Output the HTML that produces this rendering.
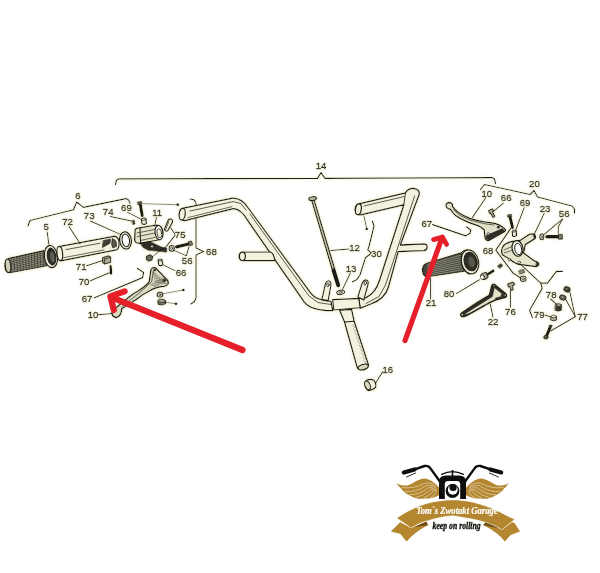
<!DOCTYPE html>
<html><head><meta charset="utf-8"><title>Lenker Explosionszeichnung</title>
<style>
html,body{margin:0;padding:0;background:#fff;}
body{width:600px;height:573px;overflow:hidden;font-family:"Liberation Sans",sans-serif;}
svg{display:block}
svg text{font-family:"Liberation Sans",sans-serif;fill:#1c1c15;stroke:#1c1c15;stroke-width:0.42px;}
svg{will-change:transform;}
</style></head><body>
<svg width="600" height="573" viewBox="0 0 600 573">
<rect width="600" height="573" fill="#ffffff"/>
<defs><filter id="halo" x="0" y="0" width="600" height="573" filterUnits="userSpaceOnUse">
<feGaussianBlur in="SourceAlpha" stdDeviation="1.5" result="b"/>
<feComponentTransfer in="b" result="b2"><feFuncA type="linear" slope="2.2"/></feComponentTransfer>
<feFlood flood-color="#f5f3d6" result="c"/>
<feComposite in="c" in2="b2" operator="in" result="h"/>
<feMerge><feMergeNode in="h"/><feMergeNode in="SourceGraphic"/></feMerge>
</filter></defs>
<g stroke-linejoin="round" stroke-linecap="round" filter="url(#halo)">
<path d="M115.5,184.5 L116.5,180 L119.5,178.8 L317.5,178.4 L321,172.6 L325,178.4 L492,177.6 L494.5,179 L495.5,183.5" fill="none" stroke="#1f1f18" stroke-width="1.16" />
<path d="M28,226 L30,220.5 L73.5,209.8 L76.7,202 L83.3,207.4 L126,198.6 L128.6,200 L130,203.4" fill="none" stroke="#1f1f18" stroke-width="1.16" />
<path d="M190,199 L194,199.8 L196,202.5 L196,248 L203.5,251.5 L196,255 L196,298 L194.5,301.5 L191,304" fill="none" stroke="#1f1f18" stroke-width="1.16" />
<path d="M480.5,189.5 L484.5,184.5 L530,194.5 L534,190.5 L537.5,197 L572,206 L574.5,209 L574.5,213" fill="none" stroke="#1f1f18" stroke-width="1.16" />
<path d="M510.8,228.4 L495.8,250.2 L513.3,273.3 L520,277.6" fill="none" stroke="#1f1f18" stroke-width="1.16" />
<path d="M562.5,271.3 L556.5,271.3 L547.5,283.2 L540.8,283.2 L542.2,288.4 L529.6,310.2 L532.4,317.6" fill="none" stroke="#1f1f18" stroke-width="1.16" />
<path d="M540.8,283.2 L519.5,263.4" fill="none" stroke="#1f1f18" stroke-width="1.09" />
<path d="M372.4,221.2 L374,225.8 L369,246.5 L367.8,249.8 L371.2,253.2 L365.4,257.8 L360,275 L357,279.4 L352.4,281.8" fill="none" stroke="#1f1f18" stroke-width="1.16" />
<path d="M363.9,215.8 L366.5,227.6" fill="none" stroke="#1f1f18" stroke-width="0.87" />
<circle cx="366.7" cy="229" r="1.3" fill="#1f1f18"/>
<path d="M182,208.4 L232.5,198.2 Q242,198 248.3,208 L310.8,293.2 Q316,300.5 331,301.4 L332.8,310.6 Q312,311 304.4,302.3 L247.4,220.2 Q241.5,209.5 233.5,208.6 L185,220.6 Q179.4,221 179.2,215 Q179.4,209 182,208.4 Z" fill="#f3f2de" stroke="#1f1f18" stroke-width="1.26" />
<ellipse cx="182.2" cy="214.2" rx="3.0" ry="5.9" transform="rotate(8 182.2 214.2)" fill="#f3f2de" stroke="#1f1f18" stroke-width="1.15"/>
<path d="M190,211 L233,201.6 L241,203.5 L246,210" fill="none" stroke="#1f1f18" stroke-width="0.72" />
<path d="M188,217.6 L232,206.6" fill="none" stroke="#1f1f18" stroke-width="0.65" />
<path d="M250,214 L309,296 L318,302.5 L331,304.5" fill="none" stroke="#1f1f18" stroke-width="0.72" />
<path d="M242.8,252 L270.4,252 Q273.5,253 275,260.6 L242.8,260.6 Q239,260 239,256.2 Q239.2,252.4 242.8,252 Z" fill="#f3f2de" stroke="#1f1f18" stroke-width="1.15" />
<ellipse cx="242.4" cy="256.3" rx="3.0" ry="4.2" transform="rotate(0 242.4 256.3)" fill="#f3f2de" stroke="#1f1f18" stroke-width="1.15"/>
<path d="M358.6,203.8 L405.5,192.8 Q408.5,187.8 414.5,188.6 Q419.5,189.4 419.4,194 L400.4,245 L423.8,243.8 Q427.4,244 427.2,247.2 Q427,250.4 423.8,250.6 L398.2,251.6 L388.5,287 Q385,299 371,304 L360,308.3 L358.6,298.5 L366,297.6 Q375.5,293 379.4,280.5 L403.8,204.8 L361,214.8 Q355.2,215.4 355,209.6 Q355.2,204.4 358.6,203.8 Z" fill="#f3f2de" stroke="#1f1f18" stroke-width="1.26" />
<ellipse cx="358.4" cy="209.3" rx="2.9" ry="5.5" transform="rotate(8 358.4 209.3)" fill="#f3f2de" stroke="#1f1f18" stroke-width="1.15"/>
<path d="M364,206 L404,196.6" fill="none" stroke="#1f1f18" stroke-width="0.72" />
<path d="M414.6,196 L385.5,285 L379,296.5 L366,303.5" fill="none" stroke="#1f1f18" stroke-width="0.72" />
<path d="M405.5,192.8 L403.8,204.8" fill="none" stroke="#1f1f18" stroke-width="0.87" />
<path d="M332.6,299.6 L358.8,298.4 L360.2,307.8 L333.8,310 Z" fill="#f3f2de" stroke="#1f1f18" stroke-width="1.15" />
<path d="M321.8,299.6 L325.5,283.4 Q327,280 329.6,281 Q331.6,282.4 331,285 L328.2,300.6 Z" fill="#f3f2de" stroke="#1f1f18" stroke-width="1.15" />
<ellipse cx="327.9" cy="284.8" rx="1.2" ry="1.9" transform="rotate(15 327.9 284.8)" fill="#fff" stroke="#1f1f18" stroke-width="0.8"/>
<path d="M357.8,297 L362.2,282.8 Q364,279.2 366.6,280 Q368.8,281.2 368.2,284 L363.8,300 Z" fill="#f3f2de" stroke="#1f1f18" stroke-width="1.15" />
<ellipse cx="365.2" cy="283.2" rx="1.2" ry="1.9" transform="rotate(15 365.2 283.2)" fill="#fff" stroke="#1f1f18" stroke-width="0.8"/>
<path d="M339.6,310.2 L344.5,322 L357.2,367.6 Q359,370.6 364,369.8 Q368.6,368.2 368.5,364.8 L354.2,321.2 L351.6,309.4 Z" fill="#f3f2de" stroke="#1f1f18" stroke-width="1.26" />
<ellipse cx="363.2" cy="367" rx="5.2" ry="2.6" transform="rotate(-16 363.2 367)" fill="#d4d4b8" stroke="#1f1f18" stroke-width="1.03"/>
<path d="M344.5,322 L354.2,321.2" fill="none" stroke="#1f1f18" stroke-width="1.01" />
<path d="M352.4,325.0 L354.6,327.4" stroke="#1f1f18" stroke-width="0.4" fill="none"/>
<path d="M353.7,329.0 L355.9,331.4" stroke="#1f1f18" stroke-width="0.4" fill="none"/>
<path d="M355.0,333.0 L357.2,335.4" stroke="#1f1f18" stroke-width="0.4" fill="none"/>
<path d="M356.3,337.0 L358.5,339.4" stroke="#1f1f18" stroke-width="0.4" fill="none"/>
<path d="M357.6,341.0 L359.8,343.4" stroke="#1f1f18" stroke-width="0.4" fill="none"/>
<path d="M358.9,345.0 L361.1,347.4" stroke="#1f1f18" stroke-width="0.4" fill="none"/>
<path d="M360.2,349.0 L362.4,351.4" stroke="#1f1f18" stroke-width="0.4" fill="none"/>
<path d="M361.6,353.0 L363.8,355.4" stroke="#1f1f18" stroke-width="0.4" fill="none"/>
<path d="M362.9,357.0 L365.1,359.4" stroke="#1f1f18" stroke-width="0.4" fill="none"/>
<path d="M364.2,361.0 L366.4,363.4" stroke="#1f1f18" stroke-width="0.4" fill="none"/>
<path d="M311.5,199.8 L313.9,199.2 L339.5,285 L337.1,286 Z" fill="#c9c8b0" stroke="#1f1f18" stroke-width="1.15" />
<ellipse cx="312.6" cy="198.6" rx="3.9" ry="1.9" transform="rotate(-8 312.6 198.6)" fill="#b9b9a4" stroke="#1f1f18" stroke-width="1.15"/>
<path d="M333.4,270.4 L338.3,285.4" fill="none" stroke="#1f1f18" stroke-width="3.77" />
<ellipse cx="340.6" cy="292.4" rx="4.0" ry="2.2" transform="rotate(-12 340.6 292.4)" fill="#f3f2de" stroke="#1f1f18" stroke-width="1.03"/>
<ellipse cx="340.6" cy="292.4" rx="1.7" ry="0.8" transform="rotate(-12 340.6 292.4)" fill="#fff" stroke="#1f1f18" stroke-width="0.69"/>
<path d="M366,380.6 Q370,378.4 373.6,380 Q376.4,382.6 375.8,387.2 Q373,390.4 368.4,390.6 Q364.6,388 364.8,383.4 Q365,381.4 366,380.6 Z" fill="#f3f2de" stroke="#1f1f18" stroke-width="1.15" />
<ellipse cx="367.6" cy="385.4" rx="2.6" ry="4.6" transform="rotate(-24 367.6 385.4)" fill="#d8d7be" stroke="#1f1f18" stroke-width="0.92"/>
<path d="M375.4,383.4 L382.8,371.6" fill="none" stroke="#1f1f18" stroke-width="1.01" />
<path d="M9,258.4 L44,250.6 L47,265.8 L9.5,272.8 Q5,272.2 4.8,266 Q4.8,260 9,258.4 Z" fill="#55554a" stroke="#1f1f18" stroke-width="1.15" />
<path d="M9.5,259.5 L45,251.7" stroke="#cfceb6" stroke-width="0.55" fill="none"/>
<path d="M9.5,261.2 L45,253.6" stroke="#cfceb6" stroke-width="0.55" fill="none"/>
<path d="M9.5,263.0 L45,255.5" stroke="#cfceb6" stroke-width="0.55" fill="none"/>
<path d="M9.5,264.7 L45,257.4" stroke="#cfceb6" stroke-width="0.55" fill="none"/>
<path d="M9.5,266.5 L45,259.2" stroke="#cfceb6" stroke-width="0.55" fill="none"/>
<path d="M9.5,268.2 L45,261.1" stroke="#cfceb6" stroke-width="0.55" fill="none"/>
<path d="M9.5,270.0 L45,263.0" stroke="#cfceb6" stroke-width="0.55" fill="none"/>
<path d="M9.5,271.7 L45,264.9" stroke="#cfceb6" stroke-width="0.55" fill="none"/>
<path d="M11.0,258.0 L11.8,272.4" stroke="#1f1f18" stroke-width="0.55" fill="none"/>
<path d="M13.9,257.3 L14.7,271.9" stroke="#1f1f18" stroke-width="0.55" fill="none"/>
<path d="M16.8,256.7 L17.6,271.3" stroke="#1f1f18" stroke-width="0.55" fill="none"/>
<path d="M19.7,256.0 L20.5,270.8" stroke="#1f1f18" stroke-width="0.55" fill="none"/>
<path d="M22.6,255.4 L23.4,270.3" stroke="#1f1f18" stroke-width="0.55" fill="none"/>
<path d="M25.5,254.7 L26.3,269.7" stroke="#1f1f18" stroke-width="0.55" fill="none"/>
<path d="M28.4,254.1 L29.2,269.2" stroke="#1f1f18" stroke-width="0.55" fill="none"/>
<path d="M31.3,253.4 L32.1,268.6" stroke="#1f1f18" stroke-width="0.55" fill="none"/>
<path d="M34.2,252.8 L35.0,268.1" stroke="#1f1f18" stroke-width="0.55" fill="none"/>
<path d="M37.1,252.1 L37.9,267.5" stroke="#1f1f18" stroke-width="0.55" fill="none"/>
<path d="M40.0,251.5 L40.8,267.0" stroke="#1f1f18" stroke-width="0.55" fill="none"/>
<path d="M42.9,250.8 L43.7,266.5" stroke="#1f1f18" stroke-width="0.55" fill="none"/>
<ellipse cx="8.0" cy="265.8" rx="2.7" ry="6.8" transform="rotate(-6 8.0 265.8)" fill="#d0d0b8" stroke="#1f1f18" stroke-width="1.03"/>
<ellipse cx="51" cy="256.6" rx="6.6" ry="11.2" transform="rotate(-8 51 256.6)" fill="#f3f2de" stroke="#1f1f18" stroke-width="1.26"/>
<ellipse cx="51.6" cy="256.6" rx="4.3" ry="8.6" transform="rotate(-8 51.6 256.6)" fill="#2e2e26" stroke="#1f1f18" stroke-width="0.92"/>
<ellipse cx="52.4" cy="257" rx="2.2" ry="5.6" transform="rotate(-8 52.4 257)" fill="#5c5c50" stroke="none" stroke-width="0.0"/>
<path d="M61,246.2 L114.8,236.2 Q118.6,237 119.2,243 Q119.2,249 116.6,249.8 L61,260.8 Q57.2,260.2 57,253.8 Q57.4,247 61,246.2 Z" fill="#f3f2de" stroke="#1f1f18" stroke-width="1.21" />
<ellipse cx="59.8" cy="253.5" rx="2.8" ry="7.2" transform="rotate(-6 59.8 253.5)" fill="#f3f2de" stroke="#1f1f18" stroke-width="1.15"/>
<path d="M103.4,240.4 L110.8,239 L109.8,243.4 L102.6,247.4 Z" fill="#3c3c32" stroke="#1f1f18" stroke-width="0.57" />
<path d="M112.4,238.8 Q117.4,239.6 116.6,246.4 L112.8,248 Q110.4,244 112.4,238.8 Z" fill="#55554a" stroke="#1f1f18" stroke-width="0.57" />
<path d="M66,249.6 L100,243.2" fill="none" stroke="#1f1f18" stroke-width="0.72" />
<path d="M64,257.6 L104,250" fill="none" stroke="#1f1f18" stroke-width="0.65" />
<ellipse cx="125.5" cy="240.4" rx="5.9" ry="8.7" transform="rotate(-8 125.5 240.4)" fill="#f3f2de" stroke="#1f1f18" stroke-width="1.26"/>
<ellipse cx="125.8" cy="240.4" rx="3.7" ry="6.4" transform="rotate(-8 125.8 240.4)" fill="#fff" stroke="#1f1f18" stroke-width="1.03"/>
<path d="M102.6,257.4 L108.6,255.8 L110.8,257.2 L110.6,262.6 L104.6,264 L102.6,262.6 Z" fill="#a9a996" stroke="#1f1f18" stroke-width="1.03" />
<path d="M104.6,258.8 L110.6,257.4" fill="none" stroke="#1f1f18" stroke-width="0.72" />
<path d="M104.6,258.8 L104.6,264" fill="none" stroke="#1f1f18" stroke-width="0.72" />
<path d="M110.6,266.2 L111,273.4" fill="none" stroke="#1f1f18" stroke-width="2.46" />
<path d="M140.4,205 L142.2,215.6" fill="none" stroke="#1f1f18" stroke-width="3.04" />
<path d="M137.6,202 L141.6,201.4 L142,204 L138,204.6 Z" fill="#55554a" stroke="#1f1f18" stroke-width="0.8" />
<path d="M142.8,203.7 L177.2,204.7" stroke="#1f1f18" stroke-width="0.7" fill="none"/>
<circle cx="177.79999999999998" cy="204.7" r="1.35" fill="#1f1f18"/>
<path d="M132,220.6 L134.4,220.2 L135,224 L133,224.6 Z" fill="#2e2e26" stroke="#1f1f18" stroke-width="0.69" />
<path d="M141.5,219.2 Q143.6,217.4 146,218.8 L146.4,223.6 Q144.2,225.2 141.9,223.8 Z" fill="#f3f2de" stroke="#1f1f18" stroke-width="1.15" />
<ellipse cx="143.8" cy="219.2" rx="2.2" ry="1.1" transform="rotate(-5 143.8 219.2)" fill="#fff" stroke="#1f1f18" stroke-width="0.8"/>
<path d="M135,230 Q135.4,228.6 137.5,228.2 L156.3,225 Q162.6,225.4 163,232.6 Q163,239 158.4,240 L141,243.4 Q135,243.8 134.6,240 Z" fill="#e6e5cc" stroke="#1f1f18" stroke-width="1.26" />
<path d="M140,228 L140.6,243" fill="none" stroke="#1f1f18" stroke-width="1.01" />
<path d="M137,233 L155,229.4" fill="none" stroke="#1f1f18" stroke-width="0.65" />
<path d="M137,236.6 L155,233" fill="none" stroke="#1f1f18" stroke-width="0.65" />
<path d="M141,240.4 L155,237.4" fill="none" stroke="#1f1f18" stroke-width="0.65" />
<ellipse cx="159" cy="232.7" rx="3.9" ry="7.2" transform="rotate(-8 159 232.7)" fill="#fff" stroke="#1f1f18" stroke-width="1.15"/>
<ellipse cx="159.4" cy="233.2" rx="2.4" ry="4.5" transform="rotate(-8 159.4 233.2)" fill="#f3f2de" stroke="#1f1f18" stroke-width="0.8"/>
<path d="M140.2,243 L150,241.6 L160.3,246.6 L167,248.6 L166.4,252.2 L161.7,251.6 L148.2,250.2 L143,247.4 Z" fill="#2e2e26" stroke="#1f1f18" stroke-width="0.8" />
<ellipse cx="152" cy="246.4" rx="1.1" ry="0.9" transform="rotate(0 152 246.4)" fill="#e6e5cc" stroke="none" stroke-width="0.0"/>
<path d="M146.6,256.2 L150,254.6 L152.6,256.6 L152,260 L148.6,261.2 L146.2,259.4 Z" fill="#6a6a5c" stroke="#1f1f18" stroke-width="1.03" />
<path d="M164.4,247.6 L152.4,256.6" fill="none" stroke="#1f1f18" stroke-width="0.87" />
<path d="M168.2,220 Q169.6,218.2 171.6,219.2 Q173,220.2 172.4,222.4 L167.8,230.8 Q166.2,231.8 164.8,230.4 Q164,229.4 164.8,228 Z" fill="#f3f2de" stroke="#1f1f18" stroke-width="1.15" />
<path d="M169,221.2 L165.6,229.6" fill="none" stroke="#1f1f18" stroke-width="0.65" />
<ellipse cx="171.7" cy="248.4" rx="2.7" ry="2.9" transform="rotate(0 171.7 248.4)" fill="#f3f2de" stroke="#1f1f18" stroke-width="1.03"/>
<ellipse cx="171.7" cy="248.4" rx="1.1" ry="1.2" transform="rotate(0 171.7 248.4)" fill="#fff" stroke="#1f1f18" stroke-width="0.69"/>
<path d="M176.6,246.8 L188.6,244" fill="none" stroke="#1f1f18" stroke-width="3.33" />
<path d="M188.4,241.6 L191.6,241 L192.8,244.8 L189.6,245.8 Z" fill="#77776a" stroke="#1f1f18" stroke-width="0.92" />
<path d="M158,260.2 Q159.8,258.6 162,259.8 L162.8,264.6 Q161,266.4 158.8,265.2 Z" fill="#f3f2de" stroke="#1f1f18" stroke-width="1.15" />
<ellipse cx="160" cy="260" rx="2.0" ry="1.0" transform="rotate(-8 160 260)" fill="#fff" stroke="#1f1f18" stroke-width="0.8"/>
<path d="M94.5,297.8 L142.5,277.6 L143.6,272.6 L137.4,268.4" fill="none" stroke="#1f1f18" stroke-width="1.23" />
<path d="M150.8,270 Q152.5,266.5 155.5,267.8 L167,279.6 Q169.4,282.4 167.6,284.6 Q165.6,286.6 161.7,286.7 Q154,288 150,290.8 Q142,294.6 136.7,299.2 L121.7,308.8 Q121.6,316 116.4,317.6 Q111.4,316.8 111.8,312 Q112.6,309 115,308.4 L128.3,297.5 Q134,293 138.3,290.8 Q146,286 149.2,281.7 Z" fill="#dad9c0" stroke="#1f1f18" stroke-width="1.26" />
<path d="M150.6,284.6 L155.6,286.8" stroke="#1f1f18" stroke-width="0.4" fill="none"/>
<path d="M152.1,283.7 L157.1,286.1" stroke="#1f1f18" stroke-width="0.4" fill="none"/>
<path d="M153.6,282.8 L158.6,285.4" stroke="#1f1f18" stroke-width="0.4" fill="none"/>
<path d="M155.1,281.9 L160.1,284.7" stroke="#1f1f18" stroke-width="0.4" fill="none"/>
<path d="M156.6,281.0 L161.6,284.0" stroke="#1f1f18" stroke-width="0.4" fill="none"/>
<path d="M158.1,280.1 L163.1,283.3" stroke="#1f1f18" stroke-width="0.4" fill="none"/>
<path d="M159.6,279.2 L164.6,282.6" stroke="#1f1f18" stroke-width="0.4" fill="none"/>
<path d="M161.1,278.3 L166.1,281.9" stroke="#1f1f18" stroke-width="0.4" fill="none"/>
<path d="M162.6,277.4 L167.6,281.2" stroke="#1f1f18" stroke-width="0.4" fill="none"/>
<path d="M164.1,276.5 L169.1,280.5" stroke="#1f1f18" stroke-width="0.4" fill="none"/>
<path d="M152.5,272.0 L155.5,273.6" stroke="#1f1f18" stroke-width="0.4" fill="none"/>
<path d="M153.1,274.0 L157.7,275.6" stroke="#1f1f18" stroke-width="0.4" fill="none"/>
<path d="M153.7,276.0 L159.9,277.6" stroke="#1f1f18" stroke-width="0.4" fill="none"/>
<path d="M154.3,278.0 L162.1,279.6" stroke="#1f1f18" stroke-width="0.4" fill="none"/>
<path d="M154.9,280.0 L164.3,281.6" stroke="#1f1f18" stroke-width="0.4" fill="none"/>
<path d="M155.5,282.0 L166.5,283.6" stroke="#1f1f18" stroke-width="0.4" fill="none"/>
<path d="M153.4,271 L151.6,281.8 L140,292.4 L122,306.6" fill="none" stroke="#1f1f18" stroke-width="0.65" />
<ellipse cx="164.2" cy="280.4" rx="1.3" ry="1.4" transform="rotate(0 164.2 280.4)" fill="#3c3c32" stroke="#1f1f18" stroke-width="0.57"/>
<ellipse cx="154.6" cy="270" rx="1.0" ry="1.0" transform="rotate(0 154.6 270)" fill="#3c3c32" stroke="#1f1f18" stroke-width="0.57"/>
<ellipse cx="160" cy="294.6" rx="2.9" ry="2.7" transform="rotate(0 160 294.6)" fill="#f3f2de" stroke="#1f1f18" stroke-width="1.03"/>
<ellipse cx="160" cy="294.6" rx="1.2" ry="1.1" transform="rotate(0 160 294.6)" fill="#fff" stroke="#1f1f18" stroke-width="0.69"/>
<path d="M163.2,293.8 L182.8,290" stroke="#1f1f18" stroke-width="0.7" fill="none"/>
<circle cx="183.4" cy="290" r="1.35" fill="#1f1f18"/>
<path d="M157.8,301 Q161.6,298.6 165.4,300.8 L165.6,303.6 Q161.8,306 158,304 Z" fill="#77776a" stroke="#1f1f18" stroke-width="1.03" />
<ellipse cx="161.6" cy="300.8" rx="3.7" ry="1.7" transform="rotate(4 161.6 300.8)" fill="#a9a996" stroke="#1f1f18" stroke-width="0.8"/>
<path d="M165.8,302.2 L175.4,303.8" stroke="#1f1f18" stroke-width="0.7" fill="none"/>
<circle cx="176.0" cy="303.8" r="1.35" fill="#1f1f18"/>
<path d="M47.2,232 L49,245.5" fill="none" stroke="#1f1f18" stroke-width="1.01" />
<path d="M69,226.6 L80,243.6" fill="none" stroke="#1f1f18" stroke-width="1.01" />
<path d="M90.4,221 L121,234.6" fill="none" stroke="#1f1f18" stroke-width="1.01" />
<path d="M110.4,216.4 L131.4,221" fill="none" stroke="#1f1f18" stroke-width="1.01" />
<path d="M127.6,212.4 L141.6,219.4" fill="none" stroke="#1f1f18" stroke-width="1.01" />
<path d="M156.4,217.6 L154.6,226" fill="none" stroke="#1f1f18" stroke-width="1.01" />
<path d="M86.8,265.8 L102.6,260.4" fill="none" stroke="#1f1f18" stroke-width="1.01" />
<path d="M90.4,280.8 L109.4,272.8" fill="none" stroke="#1f1f18" stroke-width="1.01" />
<path d="M98,314.8 L112.4,313.6" fill="none" stroke="#1f1f18" stroke-width="1.01" />
<path d="M175,234.6 L170.6,227.6" fill="none" stroke="#1f1f18" stroke-width="1.01" />
<path d="M175,235.4 L164.6,248.6" fill="none" stroke="#1f1f18" stroke-width="1.01" />
<path d="M186,255.6 L174,250.4" fill="none" stroke="#1f1f18" stroke-width="1.01" />
<path d="M186.4,255.6 L189,246.6" fill="none" stroke="#1f1f18" stroke-width="1.01" />
<path d="M175,270.6 L162.6,264.6" fill="none" stroke="#1f1f18" stroke-width="1.01" />
<path d="M432.6,224.7 L465.8,235.8 L470,233.2 L470.8,230 L466.7,227" fill="none" stroke="#1f1f18" stroke-width="1.23" />
<path d="M446.2,204 Q448.4,201.6 451.2,203 Q453,204.4 452.5,206.4 Q455,210 458.3,212.5 Q464,216 470,218.3 Q477,220.6 483.3,221.7 L495,223.3 Q500,224.6 503.3,227.5 Q506.6,229.6 505,231.4 L489,240.4 Q486,241 485,238.3 L484.2,230 Q481,227.4 478.3,225.8 Q472,224 466.7,221.7 Q460,218.8 455.8,215.8 Q452.6,213 450.8,209.7 Q445,208.4 446.2,204 Z" fill="#e2e1c8" stroke="#1f1f18" stroke-width="1.26" />
<path d="M486.4,235.6 L502.4,228.6 L504.6,231 L489,239.8 L486,238.6 Z" fill="#2e2e26" stroke="#1f1f18" stroke-width="0.57" />
<ellipse cx="498.3" cy="227.2" rx="1.2" ry="1.1" transform="rotate(0 498.3 227.2)" fill="#3c3c32" stroke="#1f1f18" stroke-width="0.57"/>
<ellipse cx="488.4" cy="233.8" rx="1.2" ry="1.1" transform="rotate(0 488.4 233.8)" fill="#fff" stroke="#1f1f18" stroke-width="0.69"/>
<path d="M453.6,209.6 L460,215.4 L470,220 L483.6,223.6 L494,225" fill="none" stroke="#1f1f18" stroke-width="0.65" />
<path d="M488.4,210.6 L492.6,208.8 L493.8,211.2 L492.6,212 L495,216.4 L493,217.6 L490.6,213.2 L489.6,213.4 Z" fill="#a9a996" stroke="#1f1f18" stroke-width="1.03" />
<path d="M510,216.8 L512.5,227.4" fill="none" stroke="#1f1f18" stroke-width="3.04" />
<path d="M507.6,215 L511.4,214.2 L511.8,216.4 L508,217.2 Z" fill="#55554a" stroke="#1f1f18" stroke-width="0.8" />
<path d="M512.2,231.2 Q514.2,229.6 516.2,230.8 L516.6,235.6 Q514.6,237.2 512.6,236 Z" fill="#f3f2de" stroke="#1f1f18" stroke-width="1.15" />
<ellipse cx="514.2" cy="231" rx="1.9" ry="1.0" transform="rotate(-5 514.2 231)" fill="#fff" stroke="#1f1f18" stroke-width="0.8"/>
<path d="M426.6,263.2 L461,252.8 L466,271 L427.6,276.8 Q423,276.4 422.4,270.6 Q422.4,264.8 426.6,263.2 Z" fill="#45453a" stroke="#1f1f18" stroke-width="1.15" />
<path d="M427.6,264.4 L463,254.5" stroke="#cfceb6" stroke-width="0.5" fill="none"/>
<path d="M427.6,266.0 L463,256.7" stroke="#cfceb6" stroke-width="0.5" fill="none"/>
<path d="M427.6,267.7 L463,258.8" stroke="#cfceb6" stroke-width="0.5" fill="none"/>
<path d="M427.6,269.3 L463,261.0" stroke="#cfceb6" stroke-width="0.5" fill="none"/>
<path d="M427.6,270.9 L463,263.2" stroke="#cfceb6" stroke-width="0.5" fill="none"/>
<path d="M427.6,272.5 L463,265.4" stroke="#cfceb6" stroke-width="0.5" fill="none"/>
<path d="M427.6,274.2 L463,267.5" stroke="#cfceb6" stroke-width="0.5" fill="none"/>
<path d="M427.6,275.8 L463,269.7" stroke="#cfceb6" stroke-width="0.5" fill="none"/>
<path d="M461,252.8 Q463,249.4 468.2,249.6 L470,274.3 Q466,274 466,271 Z" fill="#b9b9a4" stroke="#1f1f18" stroke-width="0.92" />
<ellipse cx="470" cy="261.9" rx="8.6" ry="12.2" transform="rotate(-14 470 261.9)" fill="#f3f2de" stroke="#1f1f18" stroke-width="1.26"/>
<ellipse cx="470.6" cy="261.6" rx="6.5" ry="9.4" transform="rotate(-14 470.6 261.6)" fill="#2e2e26" stroke="#1f1f18" stroke-width="0.92"/>
<ellipse cx="471.6" cy="262" rx="3.2" ry="5.6" transform="rotate(-14 471.6 262)" fill="#55554a" stroke="none" stroke-width="0.0"/>
<path d="M503.3,245.8 Q507,241.8 515.8,240.8 L520,240.4 L529,234.4 Q533.4,232.8 535,235.4 Q536,237.4 535,238.6 L525.4,244.6 L523.6,253 L535,261.2 Q539.6,262.4 538.6,265 Q537.4,267 534,266.4 L518.3,264.4 Q512,262 510,259.2 L502.5,255 Q500.2,250 503.3,245.8 Z" fill="#e6e5cc" stroke="#1f1f18" stroke-width="1.26" />
<ellipse cx="517.5" cy="248.4" rx="5.4" ry="7.9" transform="rotate(-10 517.5 248.4)" fill="#f3f2de" stroke="#1f1f18" stroke-width="1.15"/>
<ellipse cx="518.2" cy="249" rx="3.4" ry="5.7" transform="rotate(-10 518.2 249)" fill="#fff" stroke="#1f1f18" stroke-width="0.92"/>
<path d="M504,250 L511.6,246.6" fill="none" stroke="#1f1f18" stroke-width="0.65" />
<path d="M504,253 L511.6,250.4" fill="none" stroke="#1f1f18" stroke-width="0.65" />
<ellipse cx="509.2" cy="259.8" rx="1.3" ry="1.3" transform="rotate(0 509.2 259.8)" fill="#fff" stroke="#1f1f18" stroke-width="0.69"/>
<ellipse cx="519.2" cy="262.4" rx="1.3" ry="1.3" transform="rotate(0 519.2 262.4)" fill="#fff" stroke="#1f1f18" stroke-width="0.69"/>
<path d="M533,233.6 Q535.6,233.4 535.6,236.8 L534.4,238.6 Z" fill="#2e2e26" stroke="#1f1f18" stroke-width="0.46" />
<path d="M536.6,261.8 Q539.4,262.6 538.6,265.4 L536,266.4 Z" fill="#2e2e26" stroke="#1f1f18" stroke-width="0.46" />
<path d="M518.8,270.8 L523.6,269.2 L524.8,272.6 L520,274.2 Z" fill="#8c8c7a" stroke="#1f1f18" stroke-width="0.8" />
<ellipse cx="523.2" cy="278.8" rx="2.9" ry="2.7" transform="rotate(0 523.2 278.8)" fill="#f3f2de" stroke="#1f1f18" stroke-width="1.03"/>
<ellipse cx="523.2" cy="278.8" rx="1.2" ry="1.1" transform="rotate(0 523.2 278.8)" fill="#fff" stroke="#1f1f18" stroke-width="0.69"/>
<ellipse cx="541.8" cy="236.8" rx="2.1" ry="3.0" transform="rotate(0 541.8 236.8)" fill="#f3f2de" stroke="#1f1f18" stroke-width="1.03"/>
<ellipse cx="541.8" cy="236.8" rx="0.8" ry="1.3" transform="rotate(0 541.8 236.8)" fill="#fff" stroke="#1f1f18" stroke-width="0.57"/>
<path d="M547,236.8 L559.6,236.8" fill="none" stroke="#1f1f18" stroke-width="3.62" />
<path d="M558.6,234.4 L562.4,234.6 L562.4,239.2 L558.6,239.2 Z" fill="#77776a" stroke="#1f1f18" stroke-width="0.92" />
<path d="M480.6,275.2 Q482.4,272.4 486.4,272.6 L488.2,277 Q486.6,279.6 482.6,279.6 Z" fill="#a9a996" stroke="#1f1f18" stroke-width="1.03" />
<ellipse cx="482.4" cy="277.2" rx="2.0" ry="2.3" transform="rotate(-15 482.4 277.2)" fill="#fff" stroke="#1f1f18" stroke-width="0.69"/>
<path d="M488,274.2 L493.2,270.8" fill="none" stroke="#1f1f18" stroke-width="2.75" />
<path d="M497.4,266 L500.8,263.6 L503,265.4 L500,268.4 Z" fill="#3c3c32" stroke="#1f1f18" stroke-width="0.69" />
<path d="M492,285.3 Q493,283.4 495,284.8 L505.4,293.4 Q507.6,295.6 505.75,297.25 L495.7,300 Q489,302.6 484.7,305.5 L470,313.75 Q464,317.4 461.75,316.5 Q459.4,315 461.75,312.8 L475.5,303.7 Q484,298 489.25,295.4 Z" fill="#e2e1c8" stroke="#1f1f18" stroke-width="1.49" />
<path d="M492,285.3 L494.6,286.4 L492.4,296.4 Q486,300.6 477,306.2 L463.4,314.8 L461.75,312.8 L475.5,303.7 Q484,298 489.25,295.4 Z" fill="#2e2e26" stroke="#1f1f18" stroke-width="0.57" />
<path d="M495,284.8 L505.4,293.4 L504,295.4 L494.4,287.6 Z" fill="#2e2e26" stroke="#1f1f18" stroke-width="0.46" />
<path d="M505.75,297.25 L495.7,300 L495.2,298.2 L504.6,295.4 Z" fill="#2e2e26" stroke="#1f1f18" stroke-width="0.46" />
<path d="M470,313.75 Q464,317.4 461.75,316.5 L463.4,314.8 Z" fill="#2e2e26" stroke="#1f1f18" stroke-width="0.46" />
<ellipse cx="502" cy="295.2" rx="1.0" ry="1.0" transform="rotate(0 502 295.2)" fill="#2e2e26" stroke="#1f1f18" stroke-width="0.46"/>
<path d="M507.6,284 L513,282 L514.8,284.4 L512.6,286 L513.2,290 L510.8,290.6 L510,286.8 L508.4,287 Z" fill="#a9a996" stroke="#1f1f18" stroke-width="1.03" />
<path d="M555.2,305.4 Q558.4,303.6 561.6,305.2 L561.6,310.2 Q558.4,312 555.2,310.4 Z" fill="#3c3c32" stroke="#1f1f18" stroke-width="0.8" />
<ellipse cx="558.4" cy="305" rx="3.1" ry="1.5" transform="rotate(0 558.4 305)" fill="#a9a996" stroke="#1f1f18" stroke-width="0.8"/>
<path d="M555.6,308 L561.4,307.6" fill="none" stroke="#1f1f18" stroke-width="0.58" />
<path d="M551,316.6 Q553.8,315.2 556.6,316.6 L556.6,320 Q553.8,321.6 551,320.2 Z" fill="#a9a996" stroke="#1f1f18" stroke-width="0.92" />
<ellipse cx="553.8" cy="316.4" rx="2.7" ry="1.3" transform="rotate(0 553.8 316.4)" fill="#f3f2de" stroke="#1f1f18" stroke-width="0.69"/>
<ellipse cx="567" cy="289.4" rx="3.2" ry="2.7" transform="rotate(25 567 289.4)" fill="#3c3c32" stroke="#1f1f18" stroke-width="1.03"/>
<ellipse cx="566.6" cy="288.8" rx="1.7" ry="1.1" transform="rotate(25 566.6 288.8)" fill="#8c8c7a" stroke="#1f1f18" stroke-width="0.46"/>
<ellipse cx="562.8" cy="297.5" rx="3.3" ry="2.5" transform="rotate(25 562.8 297.5)" fill="#77776a" stroke="#1f1f18" stroke-width="1.03"/>
<ellipse cx="562.6" cy="297.2" rx="1.7" ry="1.0" transform="rotate(25 562.6 297.2)" fill="#e2e1c8" stroke="#1f1f18" stroke-width="0.57"/>
<path d="M550.2,327 L546.6,336" fill="none" stroke="#1f1f18" stroke-width="3.19" />
<ellipse cx="545.9" cy="337.2" rx="2.3" ry="2.0" transform="rotate(0 545.9 337.2)" fill="#55554a" stroke="#1f1f18" stroke-width="0.92"/>
<ellipse cx="550.6" cy="326" rx="1.5" ry="1.2" transform="rotate(0 550.6 326)" fill="#55554a" stroke="#1f1f18" stroke-width="0.69"/>
<path d="M485.8,197.8 L472.5,217.4" fill="none" stroke="#1f1f18" stroke-width="1.01" />
<path d="M503.4,203.2 L494.4,210.6" fill="none" stroke="#1f1f18" stroke-width="1.01" />
<path d="M524.2,207.6 L515.8,229.8" fill="none" stroke="#1f1f18" stroke-width="1.01" />
<path d="M544.2,213.4 L534.4,234" fill="none" stroke="#1f1f18" stroke-width="1.01" />
<path d="M562.5,219.2 L543.6,234.8" fill="none" stroke="#1f1f18" stroke-width="1.01" />
<path d="M562.5,219.2 L558.3,226.8 L558.3,233.4" fill="none" stroke="#1f1f18" stroke-width="1.01" />
<path d="M430.6,278 L430.6,299" fill="none" stroke="#1f1f18" stroke-width="1.01" />
<path d="M456.3,293.6 L479.4,279.8" fill="none" stroke="#1f1f18" stroke-width="1.01" />
<path d="M490.2,303.8 L493,317.2" fill="none" stroke="#1f1f18" stroke-width="1.01" />
<path d="M510.4,291 L510.4,307.2" fill="none" stroke="#1f1f18" stroke-width="1.01" />
<path d="M550.6,299 L557,304.6" fill="none" stroke="#1f1f18" stroke-width="1.01" />
<path d="M545.4,315.2 L551,317" fill="none" stroke="#1f1f18" stroke-width="1.01" />
<path d="M575.2,316.6 L569.8,291.6" fill="none" stroke="#1f1f18" stroke-width="1.01" />
<path d="M575.2,316.6 L565.6,299.2" fill="none" stroke="#1f1f18" stroke-width="1.01" />
<path d="M575.2,316.8 L550.6,331" fill="none" stroke="#1f1f18" stroke-width="1.01" />
<path d="M349,249 L331,250.6" fill="none" stroke="#1f1f18" stroke-width="1.01" />
<path d="M350.4,273 L342.4,289.6" fill="none" stroke="#1f1f18" stroke-width="1.01" />
<g id="lbl">
<text x="321" y="168.5" font-size="9.6" text-anchor="middle">14</text>
<text x="78" y="198.9" font-size="9.6" text-anchor="middle">6</text>
<text x="46.2" y="229.9" font-size="9.6" text-anchor="middle">5</text>
<text x="67.6" y="224.9" font-size="9.6" text-anchor="middle">72</text>
<text x="89.2" y="219.3" font-size="9.6" text-anchor="middle">73</text>
<text x="108.2" y="215.1" font-size="9.6" text-anchor="middle">74</text>
<text x="126.4" y="210.5" font-size="9.6" text-anchor="middle">69</text>
<text x="157.2" y="215.9" font-size="9.6" text-anchor="middle">11</text>
<text x="180.2" y="237.9" font-size="9.6" text-anchor="middle">75</text>
<text x="187.2" y="263.5" font-size="9.6" text-anchor="middle">56</text>
<text x="211.4" y="254.9" font-size="9.6" text-anchor="middle">68</text>
<text x="181" y="275.5" font-size="9.6" text-anchor="middle">66</text>
<text x="81.2" y="270.3" font-size="9.6" text-anchor="middle">71</text>
<text x="84" y="284.5" font-size="9.6" text-anchor="middle">70</text>
<text x="87" y="301.5" font-size="9.6" text-anchor="middle">67</text>
<text x="93" y="317.9" font-size="9.6" text-anchor="middle">10</text>
<text x="354.6" y="251.1" font-size="9.6" text-anchor="middle">12</text>
<text x="351" y="271.5" font-size="9.6" text-anchor="middle">13</text>
<text x="376.4" y="257.3" font-size="9.6" text-anchor="middle">30</text>
<text x="387.8" y="372.5" font-size="9.6" text-anchor="middle">16</text>
<text x="426.8" y="227.4" font-size="9.6" text-anchor="middle">67</text>
<text x="486.8" y="196.7" font-size="9.6" text-anchor="middle">10</text>
<text x="506.2" y="200.5" font-size="9.6" text-anchor="middle">66</text>
<text x="534.4" y="186.9" font-size="9.6" text-anchor="middle">20</text>
<text x="525" y="206.3" font-size="9.6" text-anchor="middle">69</text>
<text x="545" y="211.9" font-size="9.6" text-anchor="middle">23</text>
<text x="564.2" y="217.1" font-size="9.6" text-anchor="middle">56</text>
<text x="488" y="254.3" font-size="9.6" text-anchor="middle">68</text>
<text x="431" y="306.3" font-size="9.6" text-anchor="middle">21</text>
<text x="449" y="297.3" font-size="9.6" text-anchor="middle">80</text>
<text x="493" y="324.5" font-size="9.6" text-anchor="middle">22</text>
<text x="510.4" y="314.7" font-size="9.6" text-anchor="middle">76</text>
<text x="551.2" y="297.5" font-size="9.6" text-anchor="middle">78</text>
<text x="539.2" y="317.7" font-size="9.6" text-anchor="middle">79</text>
<text x="582.6" y="319.9" font-size="9.6" text-anchor="middle">77</text>
</g>
</g><g stroke-linejoin="round" stroke-linecap="round">
<path d="M242.5,350 L111,297.2" stroke="#e5202b" stroke-width="6.2" stroke-linecap="round" fill="none"/>
<path d="M124.6,291.4 L110.4,296.4 L113.8,310" stroke="#e5202b" stroke-width="6.2" stroke-linecap="round" stroke-linejoin="round" fill="none"/>
<path d="M405,340.6 L441.8,238.4" stroke="#e5202b" stroke-width="5.2" stroke-linecap="round" fill="none"/>
<path d="M433.6,239.6 L442.4,237 L446.6,244.4" stroke="#e5202b" stroke-width="4.8" stroke-linecap="round" stroke-linejoin="round" fill="none"/>
</g>
<g id="logo">
<!-- wings -->
<g fill="#b3862f">
<path d="M396.4,483.3 Q399,484.8 401.7,485.2 Q404.6,485.8 407.5,485.4 Q410.6,484.6 413.3,482.8 Q416.2,481 419.2,479.8 Q422,478.4 425,478.4 Q428,478.8 430.8,480.4 Q434,482.4 436.7,485.1 L439.4,488 L439.4,495 Q436,497.2 432,497.9 Q428.6,498.6 425,498.5 Q420.8,498.9 416.8,498.5 Q413,497.4 409.8,495.6 Q407.2,494.4 405.2,492.7 Q403.2,491.2 401.7,489.2 Q398.6,486.6 396.4,483.3 Z"/>
<path transform="translate(905.2,0) scale(-1,1)" d="M396.4,483.3 Q399,484.8 401.7,485.2 Q404.6,485.8 407.5,485.4 Q410.6,484.6 413.3,482.8 Q416.2,481 419.2,479.8 Q422,478.4 425,478.4 Q428,478.8 430.8,480.4 Q434,482.4 436.7,485.1 L439.4,488 L439.4,495 Q436,497.2 432,497.9 Q428.6,498.6 425,498.5 Q420.8,498.9 416.8,498.5 Q413,497.4 409.8,495.6 Q407.2,494.4 405.2,492.7 Q403.2,491.2 401.7,489.2 Q398.6,486.6 396.4,483.3 Z"/>
</g>
<g stroke="#ffffff" stroke-width="0.5" fill="none" opacity="0.95">
<path d="M401.6,487.6 Q414,489 424,483.4 Q430,481.4 436,486.4 M404.6,491.6 Q416,492.6 426,485.6 Q431,484 436.4,488.6 M409,494.8 Q419,495 428,487.8 Q432,486.4 436.6,490.6 M415.6,497.6 Q423.6,496 430.4,489.8 Q433.6,489 436.8,492.4 M423.6,498 Q429,495.8 433,491.8 M430,497.8 Q434,495.6 436,493.4"/>
<path transform="translate(905.2,0) scale(-1,1)" d="M401.6,487.6 Q414,489 424,483.4 Q430,481.4 436,486.4 M404.6,491.6 Q416,492.6 426,485.6 Q431,484 436.4,488.6 M409,494.8 Q419,495 428,487.8 Q432,486.4 436.6,490.6 M415.6,497.6 Q423.6,496 430.4,489.8 Q433.6,489 436.8,492.4 M423.6,498 Q429,495.8 433,491.8 M430,497.8 Q434,495.6 436,493.4"/>
</g>
<!-- ribbon tails -->
<g fill="#b3862f">
<path d="M400.2,522.2 L390.8,531.5 L400.2,533.8 L406.6,541.4 Q415,532 428.2,525.1 L426.4,521.6 L411.25,528 Z"/>
<path d="M514.75,523.3 L520,531.5 L510.7,535 L504.8,541.4 Q497,532 483.2,525.1 L486.2,521.6 L501.9,529.75 L512,522 Z"/>
</g>
<g fill="#6e4c1c">
<path d="M414.2,526.9 L426.4,521.6 L427.8,525.2 Z"/>
<path d="M483.25,525.1 L486.2,521.6 L499,528.6 Z"/>
</g>
<!-- main band -->
<path d="M396.7,518.1 L402.4,514.4 L408.3,511.1 L414,508.3 L420,505.8 L425.8,503.8 L431.7,502.3 L437.5,501.2 L443.3,500.5 L448,500.1 L452.6,500 L457.2,500.1 L461.7,500.5 L467.5,501.2 L473.3,502.3 L479.2,503.9 L485,505.8 L491,508 L496.7,510.5 L501.4,512.8 L506,515.2 L510.4,517.4 L514.75,519.25 L501.9,529.75 L497.6,527.2 L493.2,525.1 L489,523.5 L485,522.2 L479,520.6 L473.3,519.25 L467.5,518.2 L461.7,517.3 L457,516.2 L452,515.7 L445,516.6 L437.5,518.1 L432,519.4 L427,521 L423.4,522.1 L420,523.3 L415.6,525.4 L411.25,528 Z" fill="#b3862f" stroke="#ffffff" stroke-width="0.5" stroke-linejoin="round"/>
<!-- handlebar -->
<g fill="none" stroke="#0e0e0e" stroke-linecap="round" stroke-linejoin="round">
<path d="M403.8,472.4 L414.6,469.4" stroke-width="4.2"/>
<path d="M501.2,472.4 L490.4,469.4" stroke-width="4.2"/>
<path d="M406.6,477 L415.6,473" stroke-width="0.9"/>
<path d="M498.4,477 L489.4,473" stroke-width="0.9"/>
<path d="M414.6,469.4 L424.6,466 Q428.6,465.4 430.6,468.6 L441,483" stroke-width="2.4"/>
<path d="M490.4,469.4 L480.4,466 Q476.4,465.4 474.4,468.6 L464,483" stroke-width="2.4"/>
<path d="M441.6,474.4 Q452.5,469 463.4,474.4" stroke-width="1.2"/>
<path d="M452.5,470.6 L452.5,476" stroke-width="1.6"/>
</g>
<!-- headlight -->
<path d="M439,499 L439,481 Q439.4,475.6 446,475.4 L459,475.4 Q465.6,475.6 466,481 L466,499 Z" fill="#0e0e0e"/>
<path d="M444.8,499.2 L444.8,484 Q445,481 448,481 L457,481 Q460,481 460.2,484 L460.2,499.2 Z" fill="#ffffff"/>
<circle cx="452.5" cy="491" r="6.9" fill="#0e0e0e"/>
<circle cx="452.8" cy="489.8" r="4.9" fill="#ffffff"/><circle cx="453.1" cy="487.5" r="3.6" fill="#0e0e0e"/>
<!-- texts -->
<text x="457" y="514.2" text-anchor="middle" textLength="81.5" lengthAdjust="spacingAndGlyphs" style="font-family:'Liberation Serif',serif;font-weight:bold;font-style:italic;font-size:10.4px;fill:#ffffff;stroke:#ffffff;stroke-width:0.2">Tom`s Zwotakt Garage</text>
<text x="456.6" y="529.2" text-anchor="middle" textLength="48" lengthAdjust="spacingAndGlyphs" style="font-family:'Liberation Serif',serif;font-weight:bold;font-style:italic;font-size:9.4px;fill:#14110c;stroke:#14110c;stroke-width:0.35">keep on rolling</text>
</g>

</svg>
</body></html>
